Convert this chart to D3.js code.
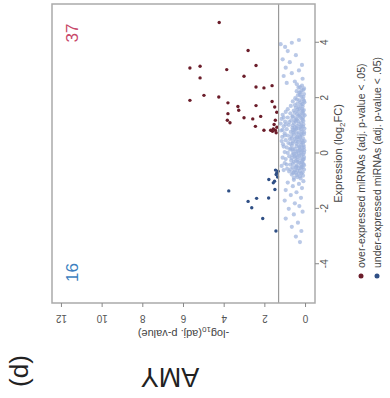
<!DOCTYPE html>
<html>
<head>
<meta charset="utf-8">
<script src="https://cdn.jsdelivr.net/npm/d3@7"></script>
<style>
  body { margin: 0; background: #fff; }
  svg { display: block; font-family: "Liberation Sans", Arial, sans-serif; }
</style>
</head>
<body>
<svg id="chart" width="390" height="398"></svg>
<script>
// the figure is an R volcano plot, turned 90 degrees counter-clockwise
const xTicks = [-4, -2, 0, 2, 4];
const yTicks = [0, 2, 4, 6, 8, 10, 12];
const pThreshold = 1.3; // -log10(0.05)
const legendLabels = ["over-expressed miRNAs (adj. p-value < .05)", "under-expressed miRNAs (adj. p-value < .05)"];
const counts = [37, 16];

// [log2FC, -log10(adj p)]
const overPoints = [[4.73,4.22],[3.72,2.80],[3.09,5.66],[3.15,5.16],[2.73,5.16],[3.03,3.85],[3.18,2.41],[2.79,3.0],
  [2.40,2.41],[2.37,2.02],[2.45,1.62],[1.92,5.66],[2.10,4.97],[2.04,4.24],[1.83,3.79],[1.70,3.30],[1.56,3.26],
  [1.73,2.41],[1.88,1.62],[1.68,1.49],[1.49,1.39],[1.44,3.79],[1.20,3.82],[1.11,3.69],[1.29,3.0],[1.25,2.57],
  [1.34,2.18],[1.20,1.46],[0.98,2.44],[0.84,2.02],[0.84,1.69],[0.89,1.56],[0.84,1.46],[0.80,1.60],[0.95,1.38],
  [1.05,1.52],[0.75,1.42]];
const underPoints = [[-1.35,3.75],[-1.73,2.80],[-1.62,2.38],[-1.96,2.62],[-1.61,1.79],[-2.35,2.08],[-2.80,1.43],
  [-1.30,1.48],[-0.94,1.78],[-1.06,1.56],[-1.0,1.50],[-0.70,1.39],[-0.64,1.32],[-0.76,1.42],[-0.85,1.35],[-0.60,1.45]];
const nsPoints = [
  [2.45,0.15],[2.38,0.32],[2.3,0.08],[2.25,0.41],[2.2,0.22],[2.15,0.05],[2.1,0.35],[2.05,0.18],[2.0,0.48],[1.96,0.1],
  [1.92,0.28],[1.88,0.6],[1.85,0.03],[1.8,0.38],[1.76,0.2],[1.72,0.7],[1.7,0.12],[1.66,0.45],[1.62,0.26],[1.6,0.85],
  [1.57,0.06],[1.55,0.55],[1.52,0.33],[1.5,0.95],[1.47,0.15],[1.45,0.72],[1.42,0.4],[1.4,1.1],[1.38,0.02],[1.35,0.6],
  [1.33,0.25],[1.3,0.85],[1.28,0.45],[1.25,1.15],[1.22,0.12],[1.2,0.68],[1.18,0.35],[1.15,0.98],[1.12,0.2],[1.1,0.55],
  [1.08,1.2],[1.05,0.08],[1.03,0.8],[1.0,0.4],[0.98,1.05],[0.96,0.22],[0.93,0.62],[0.9,0.03],[0.88,0.9],[0.86,0.45],
  [0.83,1.18],[0.8,0.15],[0.78,0.7],[0.75,0.32],[0.73,1.0],[0.7,0.05],[0.68,0.55],[0.65,0.85],[0.62,0.25],[0.6,1.12],
  [0.58,0.42],[0.55,0.1],[0.52,0.75],[0.5,0.3],[0.48,0.95],[0.45,0.02],[0.43,0.6],[0.4,0.18],[0.38,0.82],[0.35,0.4],
  [0.33,1.08],[0.3,0.08],[0.28,0.65],[0.25,0.28],[0.22,0.9],[0.2,0.12],[0.17,0.5],[0.15,0.75],[0.12,0.04],[0.1,0.35],
  [0.08,0.6],[0.05,0.2],[0.02,0.85],[0.0,0.45],[-0.03,0.1],[-0.05,0.62],[-0.08,0.3],[-0.1,0.78],[-0.13,0.05],[-0.15,0.48],
  [-0.18,0.22],[-0.2,0.95],[-0.23,0.38],[-0.25,0.68],[-0.28,0.14],[-0.3,0.55],[-0.33,0.28],[-0.35,1.0],[-0.38,0.08],
  [-0.4,0.72],[-0.43,0.42],[-0.45,1.15],[-0.48,0.18],[-0.5,0.6],[-0.53,0.32],[-0.55,0.88],[-0.58,0.05],[-0.6,0.5],
  [-0.63,0.25],[-0.65,0.78],[-0.68,0.12],[-0.7,0.45],[-0.73,0.3],[-0.76,0.65],[-0.8,0.1],[-0.85,0.38],[-0.9,0.22],
  [-0.95,0.55],[-1.0,0.08],[-1.05,0.85],[-1.1,0.3],[-1.18,0.6],[-1.25,0.15],[-1.32,0.95],[-1.4,0.42],[-1.5,0.7],
  [-1.6,0.2],[-1.7,1.0],[-1.8,0.5],[-1.9,0.28],[-2.0,0.8],[-2.1,0.12],[-2.2,0.55],[-2.35,0.95],[-2.5,0.35],[-2.65,0.65],
  [-2.8,0.18],[-3.0,0.45],[-3.2,0.25],
  [2.55,0.9],[2.6,0.5],[2.7,0.12],[2.8,1.05],[2.9,0.65],[3.0,0.3],[3.1,0.95],[3.2,0.15],[3.3,0.75],[3.4,1.1],
  [3.55,0.45],[3.7,0.85],[3.85,0.98],[4.0,0.65],[4.1,0.3],[3.95,1.2],
  [1.9,0.05],[1.6,0.15],[1.3,0.1],[1.0,0.18],[0.7,0.2],[0.4,0.1],[0.1,0.15],[-0.2,0.06],[-0.5,0.12],[2.2,0.28],
  [1.4,0.25],[0.9,0.3],[0.6,0.38],[0.2,0.28],[-0.4,0.2],[1.75,0.5],[1.2,0.5],[0.85,0.6],[0.45,0.45],[0.0,0.3],
  [1.58,0.38],[1.53,0.12],[1.48,0.5],[1.43,0.08],[1.37,0.32],[1.32,0.62],[1.27,0.18],[1.23,0.4],[1.17,0.08],[1.13,0.78],
  [1.07,0.3],[1.02,0.6],[0.97,0.1],[0.92,0.42],[0.87,0.2],[0.82,0.52],[0.77,0.05],[0.72,0.4],[0.67,0.16],[0.63,0.68],
  [0.57,0.25],[0.53,0.5],[0.47,0.15],[0.42,0.35],[0.37,0.6],[0.32,0.2],[0.27,0.42],[0.23,0.06],[0.18,0.7],[0.13,0.25],
  [0.07,0.42],[0.03,0.05],[-0.02,0.55],[-0.07,0.18],[-0.12,0.38],[-0.17,0.65],[-0.22,0.1],[-0.27,0.45],[-0.32,0.15],
  [-0.37,0.6],[-0.42,0.05],[-0.47,0.4],[-0.52,0.2],[-0.57,0.7],[-0.62,0.38],[-0.67,0.55],[-0.72,0.18],[-0.78,0.42],
  [-0.83,0.25],[-0.88,0.55],
  [1.85,0.22],[1.95,0.4],[2.05,0.08],[2.12,0.25],[2.28,0.18],[2.35,0.05],[1.68,0.32],[1.78,0.12],[2.4,0.25],[2.5,0.4],
  [1.15,0.45],[0.95,0.5],[0.75,0.58],[0.55,0.65],[0.35,0.72],[0.15,0.6],[-0.1,0.5],[-0.3,0.35],[-0.5,0.45],[-0.7,0.6],
  [1.05,0.95],[0.85,1.1],[0.65,1.0],[0.45,1.15],[0.25,1.05],[0.05,1.0],[-0.15,1.1],[-0.4,0.9],[-0.6,1.05],[1.3,1.05]
];

const overColor = "#6b1d2a", underColor = "#2f4f85", nsColor = "#9db2dd";

const svg = d3.select("#chart");
// draw in the upright frame (398 wide, 390 tall), then turn it
const g = svg.append("g").attr("transform", "translate(0,398) rotate(-90)");

const x = d3.scaleLinear().domain([-5.4, 5.4]).range([95, 394]);
const y = d3.scaleLinear().domain([-0.49, 12.44]).range([315, 52]);

// points
g.append("g").selectAll("circle").data(nsPoints).enter().append("circle")
  .attr("cx", d => x(d[0])).attr("cy", d => y(d[1])).attr("r", 2.1)
  .attr("fill", nsColor).attr("opacity", 0.7);
g.append("g").selectAll("circle").data(overPoints).enter().append("circle")
  .attr("cx", d => x(d[0])).attr("cy", d => y(d[1])).attr("r", 1.7).attr("fill", overColor);
g.append("g").selectAll("circle").data(underPoints).enter().append("circle")
  .attr("cx", d => x(d[0])).attr("cy", d => y(d[1])).attr("r", 1.7).attr("fill", underColor);

// significance line
g.append("line")
  .attr("x1", 95).attr("x2", 394).attr("y1", y(pThreshold)).attr("y2", y(pThreshold))
  .attr("stroke", "#999").attr("stroke-width", 1.2);

// frame
g.append("rect").attr("x", 95).attr("y", 52).attr("width", 299).attr("height", 263)
  .attr("fill", "none").attr("stroke", "#aaa").attr("stroke-width", 1.5);

// axes
const xAxis = g.append("g").attr("transform", "translate(0,315)")
  .call(d3.axisBottom(x).tickValues(xTicks).tickSize(4).tickPadding(2).tickFormat(d => String(d)));
const yAxis = g.append("g").attr("transform", "translate(95,0)")
  .call(d3.axisLeft(y).tickValues(yTicks).tickSize(4).tickFormat(d => String(d)));
[xAxis, yAxis].forEach(a => {
  a.select(".domain").remove();
  a.selectAll("line").attr("stroke", "#888");
  a.selectAll("text").attr("fill", "#555").style("font-size", "10px");
});
yAxis.selectAll("text")
  .attr("x", null).attr("dy", null).attr("text-anchor", "middle")
  .attr("transform", "translate(-12,0) rotate(-90)");

// axis titles
g.append("text").attr("x", 244.5).attr("y", 342).attr("text-anchor", "middle")
  .attr("fill", "#444").style("font-size", "11px")
  .call(t => {
    t.append("tspan").text("Expression (log");
    t.append("tspan").attr("dy", 3).style("font-size", "8px").text("2");
    t.append("tspan").attr("dy", -3).text("FC)");
  });
g.append("text").attr("transform", "translate(68,183.5) rotate(-90)").attr("text-anchor", "middle")
  .attr("fill", "#444").style("font-size", "11px")
  .call(t => {
    t.append("tspan").text("-log");
    t.append("tspan").attr("dy", 3).style("font-size", "8px").text("10");
    t.append("tspan").attr("dy", -3).text("(adj. p-value)");
  });

// counts
g.append("text").attr("x", 365).attr("y", 78).attr("text-anchor", "middle")
  .attr("fill", "#c8496a").style("font-size", "17px").text(counts[0]);
g.append("text").attr("x", 125.5).attr("y", 78).attr("text-anchor", "middle")
  .attr("fill", "#3d7fc0").style("font-size", "17px").text(counts[1]);

// legend
const legend = g.append("g");
[overColor, underColor].forEach((c, i) => {
  legend.append("circle").attr("cx", 122).attr("cy", 361 + i * 16).attr("r", 2.5).attr("fill", c);
  legend.append("text").attr("x", 130).attr("y", 361 + i * 16 + 3.5)
    .attr("fill", "#444").style("font-size", "10.5px").text(legendLabels[i]);
});

// panel labels
g.append("text").attr("transform", "translate(30,170) rotate(-90)").attr("text-anchor", "middle")
  .attr("fill", "#222").style("font-size", "27px").text("AMY");
g.append("text").attr("x", 27).attr("y", 28).attr("text-anchor", "middle")
  .attr("fill", "#222").style("font-size", "26px").text("(d)");
</script>
</body>
</html>
